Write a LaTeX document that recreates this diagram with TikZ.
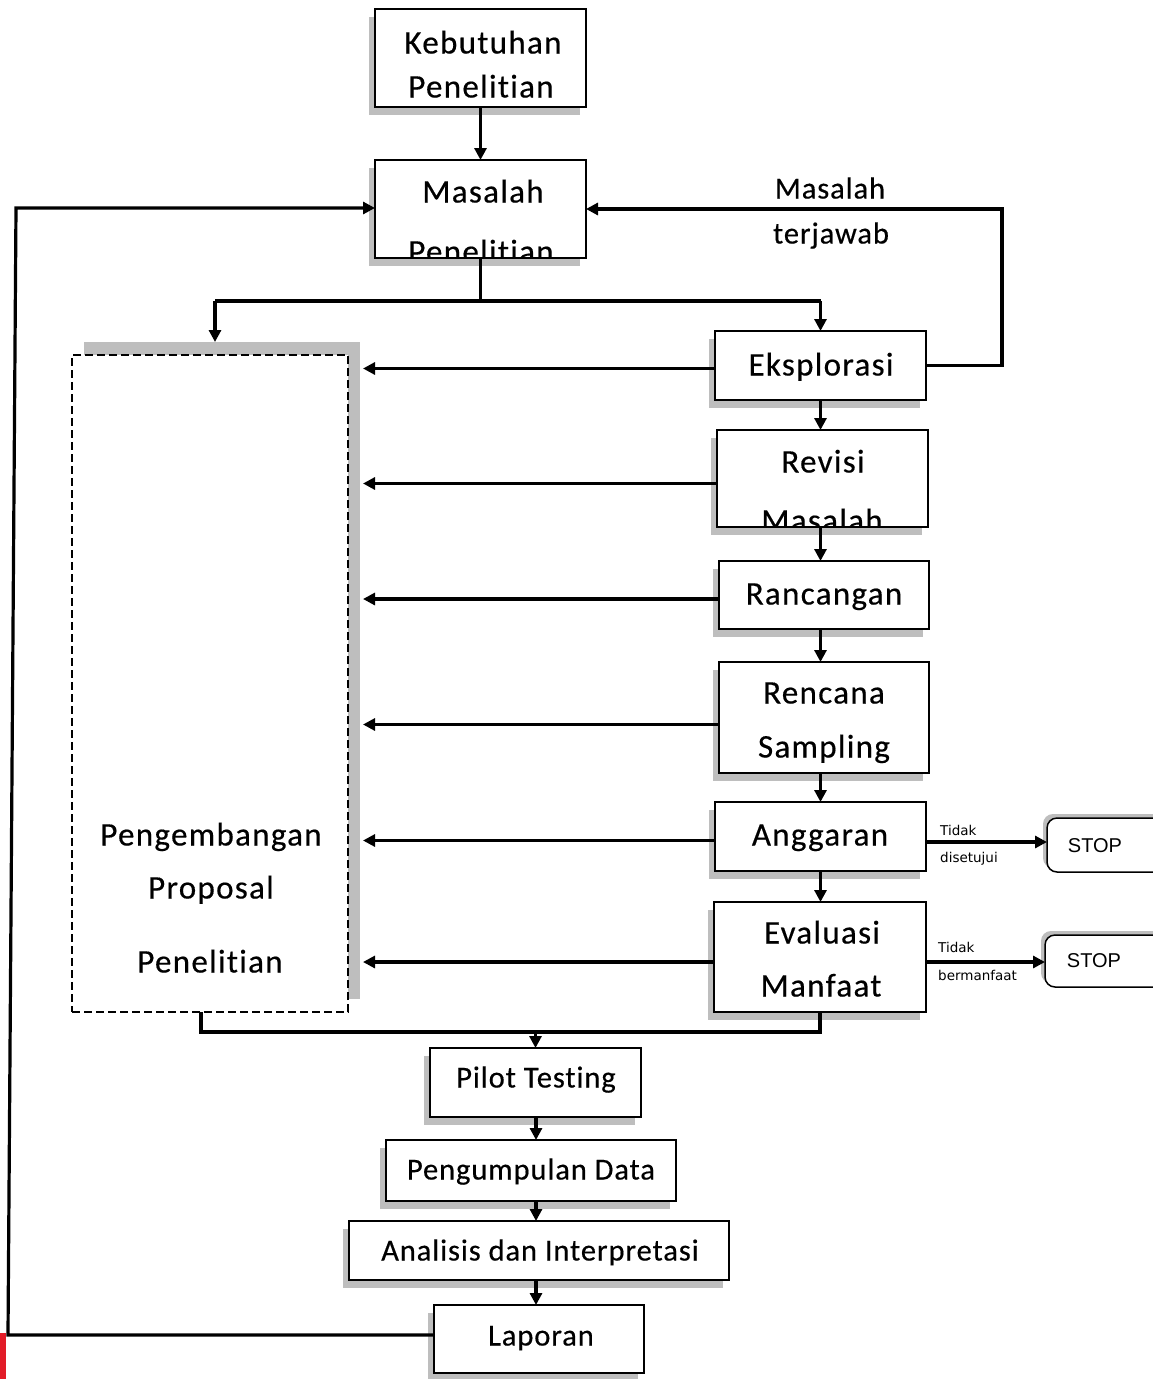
\documentclass[tikz,border=0pt]{standalone}
\usepackage{fontspec}
\setmainfont[Ligatures=NoCommon]{Carlito}
\newfontfamily\bigfam[LetterSpace=4,Ligatures=NoCommon,FakeBold=0.4]{Carlito}
\newfontfamily\midfam[LetterSpace=3,Ligatures=NoCommon,FakeBold=0.4]{Carlito}
\newfontfamily\stopfont{Liberation Sans}
\newfontfamily\smallfont{DejaVu Sans}
\usetikzlibrary{arrows.meta,shadows}
\definecolor{shade}{RGB}{190,190,190}
\definecolor{redbar}{RGB}{226,28,40}
\newcommand\bigtext{\bigfam\fontsize{33}{38}\selectfont}
\newcommand\midtext{\midfam\fontsize{30.5}{35}\selectfont}
\tikzset{
  box/.style={draw, line width=1.8pt, fill=white, inner sep=0pt, outer sep=0pt,
    drop shadow={shadow xshift=-6pt, shadow yshift=-8pt, fill=shade, opacity=1}},
  border/.style={line width=1.8pt},
  stopbox/.style={draw, line width=1.5pt, fill=white, inner sep=0pt, outer sep=0pt, rounded corners=10pt,
    drop shadow={shadow xshift=-4pt, shadow yshift=4pt, fill=shade, opacity=1}},
  dbox/.style={draw, line width=1.5pt, fill=white, dash pattern=on 8pt off 4pt, inner sep=0pt, outer sep=0pt,
    drop shadow={shadow xshift=12pt, shadow yshift=13pt, fill=shade, opacity=1}},
  bt/.style={font=\bigtext, inner sep=0pt, text height=23pt, text depth=2pt},
  mt/.style={font=\midtext, inner sep=0pt, text height=21pt, text depth=2pt},
  st/.style={font=\smallfont\fontsize{13.5}{16}\selectfont, inner sep=0pt, anchor=west, text height=10pt, text depth=0pt},
  conn/.style={line width=3.2pt, -{Triangle[length=12pt,width=12pt]}},
  plain/.style={line width=3.2pt},
}
\begin{document}
\begin{tikzpicture}[x=1pt,y=-1pt]
\useasboundingbox (0,0) rectangle (1153,1379);
\fill[white] (0,0) rectangle (1153,1379);
\fill[redbar] (0,1333) rectangle (6,1379);

% boxes
\node[box, minimum width=211pt, minimum height=98pt] (keb) at (480.5,58) {};
\node[bt] (keb1) at (483,43) {Kebutuhan};
\node[bt] (keb2) at (481,87) {Penelitian};

\node[box, minimum width=211pt, minimum height=98pt] (mas) at (480.5,209) {};
\begin{scope}
\clip (mas.south west) rectangle (mas.north east);
\node[bt] (mas1) at (483,192) {Masalah};
\node[bt] (mas2) at (481,252) {Penelitian};
\end{scope}
\draw[border] (mas.south west) rectangle (mas.north east);

\node[dbox, minimum width=276pt, minimum height=657pt] (db) at (210,683.5) {};
\node[bt] (db1) at (211,835) {Pengembangan};
\node[bt] (db2) at (211,888) {Proposal};
\node[bt] (db3) at (210,962) {Penelitian};

\node[box, minimum width=211pt, minimum height=69pt] (eks) at (820.5,365.5) {};
\node[bt] (eks1) at (821,365) {Eksplorasi};

\node[box, minimum width=211pt, minimum height=97pt] (rev) at (822.5,478.5) {};
\begin{scope}
\clip (rev.south west) rectangle (rev.north east);
\node[bt] (rev1) at (823,462) {Revisi};
\node[bt] (rev2) at (822,521) {Masalah};
\end{scope}
\draw[border] (rev.south west) rectangle (rev.north east);

\node[box, minimum width=210pt, minimum height=68pt] (ran) at (824,595) {};
\node[bt] (ran1) at (824,594) {Rancangan};

\node[box, minimum width=210pt, minimum height=111pt] (ren) at (824,717.5) {};
\node[bt] (ren1) at (824,693) {Rencana};
\node[bt] (ren2) at (824,747) {Sampling};

\node[box, minimum width=211pt, minimum height=69pt] (ang) at (820.5,836.5) {};
\node[bt] (ang1) at (820,835) {Anggaran};

\node[box, minimum width=212pt, minimum height=110pt] (eva) at (820,957) {};
\node[bt] (eva1) at (822,933) {Evaluasi};
\node[bt] (eva2) at (821,986) {Manfaat};

\node[box, minimum width=211pt, minimum height=69pt] (pil) at (535.5,1082.5) {};
\node[mt] (pil1) at (536,1078) {Pilot Testing};

\node[box, minimum width=290pt, minimum height=61pt] (pen) at (531,1170.5) {};
\node[mt] (pen1) at (531,1170) {Pengumpulan Data};

\node[box, minimum width=380pt, minimum height=59pt] (ana) at (539,1250.5) {};
\node[mt] (ana1) at (540,1251) {Analisis dan Interpretasi};

\node[box, minimum width=210pt, minimum height=68pt] (lap) at (539,1339) {};
\node[mt] (lap1) at (541,1336) {Laporan};

\node[stopbox, minimum width=120pt, minimum height=54pt] (stop1) at (1107,845) {};
\node[font=\stopfont\fontsize{20}{24}\selectfont, inner sep=0pt] (stop1t) at (1095,846) {STOP};
\node[stopbox, minimum width=122pt, minimum height=52pt] (stop2) at (1106,961) {};
\node[font=\stopfont\fontsize{20}{24}\selectfont, inner sep=0pt] (stop2t) at (1094,961) {STOP};

% labels
\node[mt] (mt1) at (830,189) {Masalah};
\node[mt] (mt2) at (831,234) {terjawab};
\node[st] (td1) at (940,830) {Tidak};
\node[st] (td2) at (940,857) {disetujui};
\node[st] (tb1) at (938,947) {Tidak};
\node[st] (tb2) at (938,975) {bermanfaat};

% coordinates
\coordinate (spl) at (215,301);
\coordinate (dbtop) at (215,342);
\coordinate (L) at (363,0);
\coordinate (rl) at (1002,0);
\coordinate (lb) at (8,1335);
\coordinate (lt) at (16,208);
\coordinate (mb) at (201,1032);
\coordinate (bx) at (536,0);

% connectors
\draw[conn] (keb.south) -- (mas.north);
\draw[plain] (mas.south) -- (mas.south |- spl);
\draw[plain] (spl) -- (spl -| eks.north);
\draw[conn] (spl) -- (dbtop);
\draw[conn] (spl -| eks.north) -- (eks.north);

\draw[conn] (eks.east) -| (rl |- mas.east) -- (mas.east);

\draw[conn] (eks.south) -- (eks.south |- rev.north);
\draw[conn] (rev.south -| eks.south) -- (ran.north -| eks.south);
\draw[conn] (ran.south -| eks.south) -- (ren.north -| eks.south);
\draw[conn] (ren.south -| eks.south) -- (ang.north -| eks.south);
\draw[conn] (ang.south -| eks.south) -- (eva.north -| eks.south);

\draw[conn] ([yshift=-3pt]eks.west) -- ([yshift=-3pt]eks.west -| L);
\draw[conn] ([yshift=-5pt]rev.west) -- ([yshift=-5pt]rev.west -| L);
\draw[conn] ([yshift=-4pt]ran.west) -- ([yshift=-4pt]ran.west -| L);
\draw[conn] ([yshift=-7pt]ren.west) -- ([yshift=-7pt]ren.west -| L);
\draw[conn] ([yshift=-4pt]ang.west) -- ([yshift=-4pt]ang.west -| L);
\draw[conn] ([yshift=-5pt]eva.west) -- ([yshift=-5pt]eva.west -| L);

\draw[conn] ([yshift=-5.5pt]ang.east) -- ([yshift=-5.5pt]ang.east -| stop1.west);
\draw[conn] ([yshift=-5pt]eva.east) -- ([yshift=-5pt]eva.east -| stop2.west);

\draw[plain] (db.south -| mb) -- (mb) -- (mb -| eva.south) -- (eva.south);
\draw[conn] (mb -| pil.north) -- (pil.north);

\draw[conn] (pil.south -| bx) -- (pen.north -| bx);
\draw[conn] (pen.south -| bx) -- (ana.north -| bx);
\draw[conn] (ana.south -| bx) -- (lap.north -| bx);

\draw[conn] (lap.west |- lb) -- (lb) -- (lt) -- (lt -| mas.west);
\end{tikzpicture}
\end{document}
